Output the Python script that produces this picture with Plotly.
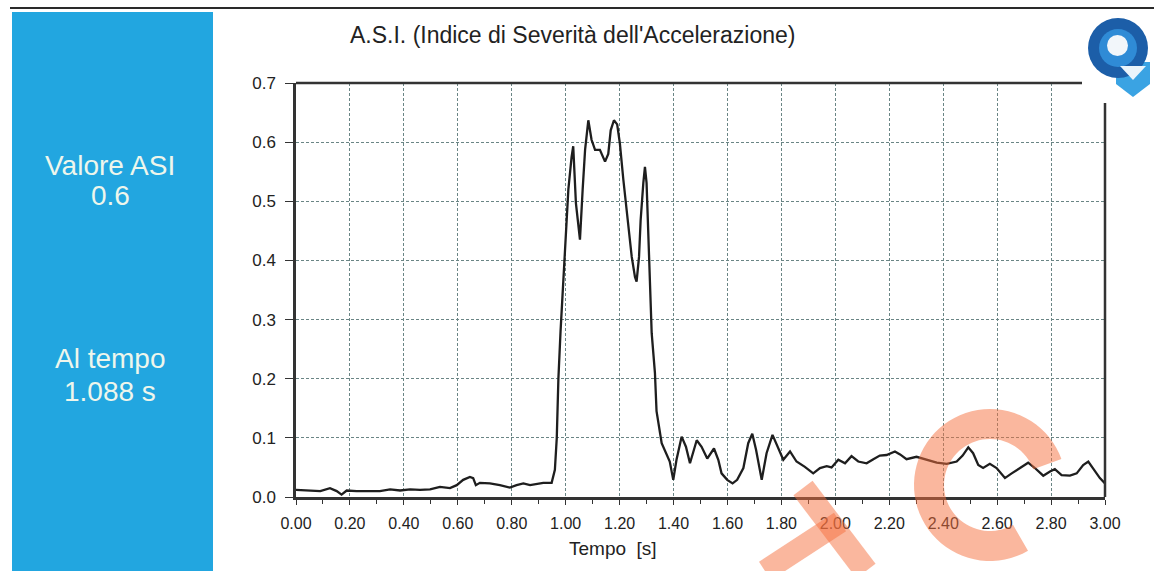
import plotly.graph_objects as go
import math

# ---------------- data ----------------
time_s = [0.00, 0.05, 0.09, 0.126, 0.151, 0.169, 0.188, 0.225, 0.274, 0.311,
          0.349, 0.386, 0.423, 0.460, 0.497, 0.534, 0.571, 0.596, 0.620, 0.645,
          0.657, 0.667, 0.682, 0.719, 0.756, 0.793, 0.818, 0.843, 0.868, 0.892,
          0.917, 0.948, 0.960, 0.967, 0.973, 0.981, 0.989, 1.001, 1.010, 1.022,
          1.028, 1.038, 1.047, 1.053, 1.063, 1.072, 1.084, 1.096, 1.109, 1.127,
          1.146, 1.158, 1.167, 1.179, 1.191, 1.201, 1.214, 1.226, 1.232, 1.245,
          1.257, 1.263, 1.272, 1.278, 1.288, 1.294, 1.300, 1.306, 1.313, 1.319,
          1.331, 1.337, 1.356, 1.374, 1.386, 1.399, 1.411, 1.430, 1.446, 1.461,
          1.486, 1.504, 1.525, 1.550, 1.566, 1.578, 1.599, 1.619, 1.636, 1.659,
          1.677, 1.692, 1.706, 1.727, 1.745, 1.767, 1.786, 1.807, 1.832, 1.856,
          1.887, 1.918, 1.943, 1.968, 1.986, 2.011, 2.036, 2.060, 2.085, 2.116,
          2.141, 2.165, 2.190, 2.221, 2.240, 2.264, 2.301, 2.339, 2.376, 2.413,
          2.450, 2.472, 2.493, 2.511, 2.530, 2.548, 2.573, 2.598, 2.629, 2.654,
          2.684, 2.715, 2.740, 2.771, 2.796, 2.814, 2.839, 2.870, 2.895, 2.919,
          2.938, 2.956, 2.981, 3.000]
asi = [0.012, 0.011, 0.010, 0.015, 0.010, 0.004, 0.011, 0.010, 0.010, 0.010,
       0.013, 0.011, 0.013, 0.012, 0.013, 0.017, 0.015, 0.020, 0.029, 0.034,
       0.032, 0.020, 0.024, 0.023, 0.020, 0.016, 0.020, 0.023, 0.020, 0.022,
       0.024, 0.024, 0.046, 0.100, 0.200, 0.280, 0.350, 0.460, 0.520, 0.575,
       0.593, 0.497, 0.457, 0.435, 0.520, 0.587, 0.637, 0.604, 0.587, 0.587,
       0.567, 0.580, 0.620, 0.637, 0.630, 0.598, 0.536, 0.485, 0.457, 0.406,
       0.372, 0.364, 0.406, 0.468, 0.531, 0.558, 0.531, 0.446, 0.356, 0.277,
       0.210, 0.145, 0.091, 0.074, 0.060, 0.029, 0.063, 0.102, 0.085, 0.057,
       0.096, 0.085, 0.065, 0.082, 0.063, 0.040, 0.029, 0.023, 0.029, 0.049,
       0.091, 0.107, 0.080, 0.029, 0.074, 0.105, 0.085, 0.063, 0.077, 0.060,
       0.051, 0.040, 0.049, 0.052, 0.050, 0.063, 0.057, 0.069, 0.060, 0.057,
       0.064, 0.070, 0.071, 0.077, 0.072, 0.064, 0.068, 0.063, 0.058, 0.056,
       0.060, 0.070, 0.084, 0.074, 0.054, 0.049, 0.056, 0.049, 0.032, 0.040,
       0.049, 0.058, 0.049, 0.036, 0.043, 0.047, 0.037, 0.036, 0.040, 0.054,
       0.060, 0.049, 0.032, 0.023]

x_ticks = [0.0, 0.2, 0.4, 0.6, 0.8, 1.0, 1.2, 1.4, 1.6, 1.8, 2.0, 2.2, 2.4, 2.6, 2.8, 3.0]
y_ticks = [0.0, 0.1, 0.2, 0.3, 0.4, 0.5, 0.6, 0.7]

title_text = "A.S.I. (Indice di Severità dell'Accelerazione)"
x_title = "Tempo  [s]"
panel_lines = ["Valore ASI", "0.6", "Al tempo", "1.088 s"]

# ---------------- layout geometry (pixels) ----------------
W_FIG, H_FIG = 1154, 571
L, R, T, B = 296, 1105, 83, 497
PW, PH = R - L, B - T


def px(x):
    return (x - L) / PW


def py(y):
    return (B - y) / PH


FONT = "Liberation Sans, Arial, sans-serif"

fig = go.Figure()
fig.add_trace(go.Scatter(x=time_s, y=asi, mode="lines",
                         line=dict(color="#1e1e1e", width=2.3),
                         hoverinfo="x+y", showlegend=False))

shapes = []
# blue side panel
shapes.append(dict(type="rect", xref="paper", yref="paper",
                   x0=px(12), x1=px(213), y0=py(571), y1=py(12),
                   fillcolor="#22a6e0", line=dict(width=0), layer="below"))
# top black rule
shapes.append(dict(type="line", xref="paper", yref="paper",
                   x0=px(10), x1=px(1154), y0=py(8), y1=py(8),
                   line=dict(color="#2a2a2a", width=2)))
# top and right frame lines (partial, as in reference)
shapes.append(dict(type="line", xref="paper", yref="paper",
                   x0=px(296), x1=px(1082), y0=py(83), y1=py(83),
                   line=dict(color="#333333", width=2.5)))
shapes.append(dict(type="line", xref="paper", yref="paper",
                   x0=px(1105), x1=px(1105), y0=py(103), y1=py(497),
                   line=dict(color="#333333", width=2.5)))


def path_from_pixels(pts):
    return "M " + " L ".join(f"{px(a):.5f},{py(b):.5f}" for a, b in pts) + " Z"


# watermark ring ("C")
cx, cy, ro, ri = 990, 485, 76, 46
outer, inner = [], []
a_start, a_end = 20, 300
n = 60
for i in range(n + 1):
    a = math.radians(a_start + (a_end - a_start) * i / n)
    outer.append((cx + ro * math.cos(a), cy - ro * math.sin(a)))
    inner.append((cx + ri * math.cos(a), cy - ri * math.sin(a)))
ring = outer + inner[::-1]
wm_color = "rgba(245,112,62,0.5)"
shapes.append(dict(type="path", xref="paper", yref="paper",
                   path=path_from_pixels(ring), fillcolor=wm_color,
                   line=dict(width=0), layer="above"))
# watermark "t"
shapes.append(dict(type="line", xref="paper", yref="paper",
                   x0=px(803), y0=py(488), x1=px(866), y1=py(571),
                   line=dict(color=wm_color, width=24), layer="above"))
shapes.append(dict(type="line", xref="paper", yref="paper",
                   x0=px(765), y0=py(571), x1=px(840), y1=py(522),
                   line=dict(color=wm_color, width=22), layer="above"))

# logo (top right)
shapes.append(dict(type="path", xref="paper", yref="paper",
                   path=path_from_pixels([(1116, 62), (1150, 62), (1150, 84), (1133, 97), (1116, 84)]),
                   fillcolor="#3aa3e3", line=dict(width=0)))
shapes.append(dict(type="circle", xref="paper", yref="paper",
                   x0=px(1088), x1=px(1148), y0=py(78), y1=py(18),
                   fillcolor="#1c5ea8", line=dict(width=0)))
shapes.append(dict(type="circle", xref="paper", yref="paper",
                   x0=px(1099), x1=px(1137), y0=py(67), y1=py(29),
                   fillcolor="#2f8bd6", line=dict(width=0)))
shapes.append(dict(type="circle", xref="paper", yref="paper",
                   x0=px(1107), x1=px(1128), y0=py(56), y1=py(35),
                   fillcolor="#f2f6fa", line=dict(width=0)))
shapes.append(dict(type="path", xref="paper", yref="paper",
                   path=path_from_pixels([(1120, 66), (1146, 66), (1133, 80)]),
                   fillcolor="#eaf4fb", line=dict(width=0)))

annotations = []
annotations.append(dict(xref="paper", yref="paper", x=px(572), y=py(35),
                        text=title_text, showarrow=False, xanchor="center", yanchor="middle",
                        font=dict(family=FONT, size=23, color="#222222")))
annotations.append(dict(xref="paper", yref="paper", x=px(613), y=py(548),
                        text=x_title, showarrow=False, xanchor="center", yanchor="middle",
                        font=dict(family=FONT, size=19, color="#222222")))
for txt, yy in zip(panel_lines, [165, 195, 358, 391]):
    annotations.append(dict(xref="paper", yref="paper", x=px(110), y=py(yy),
                            text=txt, showarrow=False, xanchor="center", yanchor="middle",
                            font=dict(family=FONT, size=28, color="#eef6ec")))

grid_color = "#6a8585"
fig.update_layout(
    width=W_FIG, height=H_FIG,
    margin=dict(l=L, r=W_FIG - R, t=T, b=H_FIG - B, pad=0),
    paper_bgcolor="white", plot_bgcolor="white",
    shapes=shapes, annotations=annotations,
    font=dict(family=FONT, color="#222222"),
    xaxis=dict(range=[0, 3], tickvals=x_ticks,
               ticktext=[f"{v:.2f}" for v in x_ticks],
               showline=True, linecolor="#333333", linewidth=2.5,
               ticks="outside", ticklen=5, tickcolor="#333333",
               tickfont=dict(family=FONT, size=16, color="#222222"),
               ticklabelstandoff=5,
               showgrid=True, gridcolor=grid_color, gridwidth=1.2, griddash="3px,2px",
               minor=dict(dtick=0.1, tick0=0, ticks="outside", ticklen=4,
                          tickcolor="#333333", showgrid=False),
               zeroline=False, fixedrange=True),
    yaxis=dict(range=[0, 0.7], tickvals=y_ticks,
               ticktext=[f"{v:.1f}" for v in y_ticks],
               showline=True, linecolor="#333333", linewidth=2.5,
               ticks="outside", ticklen=8, tickcolor="#333333",
               tickfont=dict(family=FONT, size=17, color="#222222"),
               ticklabelstandoff=6,
               showgrid=True, gridcolor=grid_color, gridwidth=1.2, griddash="3px,2px",
               zeroline=False, fixedrange=True),
)

fig.write_html("out.html",
               config={"displayModeBar": False},
               post_script="document.body.style.margin='0px';document.body.style.overflow='hidden';")
